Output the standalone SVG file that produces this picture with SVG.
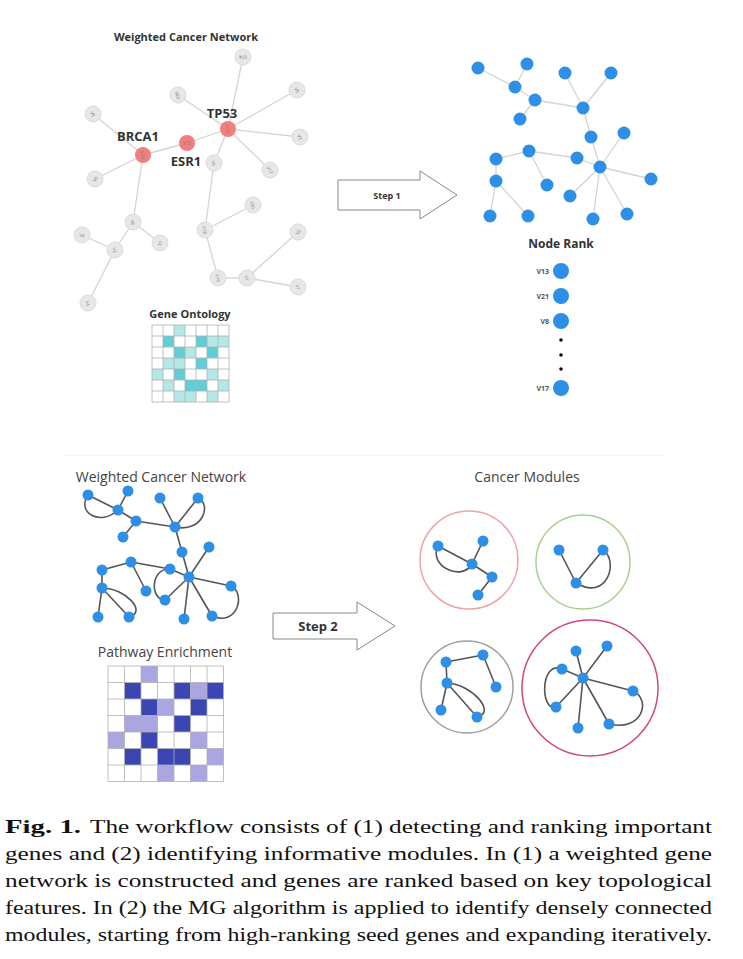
<svg xmlns="http://www.w3.org/2000/svg" width="743" height="959" viewBox="0 0 743 959">
<style>
.e1{stroke:#d4d4d4;stroke-width:1.3;fill:none}
.e2{stroke:#555;stroke-width:1.6;fill:none}
.gn{fill:#e7e7e7;stroke:#dcdcdc;stroke-width:1}
.rn{fill:#f27f80}
.bn{fill:#2e8fe6}
.tl{font-family:'Open Sans','DejaVu Sans',sans-serif;font-size:4.5px;fill:#777;text-anchor:middle;dominant-baseline:central}
.bt{font-family:'Open Sans','DejaVu Sans',sans-serif;font-weight:bold;fill:#333;text-anchor:middle}
.rt{font-family:'Open Sans','DejaVu Sans',sans-serif;fill:#444;text-anchor:middle;font-size:14px}
.rk{font-family:'Open Sans','DejaVu Sans',sans-serif;font-weight:bold;fill:#555;text-anchor:end;font-size:7px}
.cap{font-family:'Liberation Serif','Times New Roman',serif;font-size:18.5px;fill:#111}
.arr{fill:#fff;stroke:#888;stroke-width:1}
.gc{stroke:#b0b0b0;stroke-width:0.8}
.dt{fill:#5ecfd6}.lt{fill:#b3e8e6}
.dp{fill:#3b45b3}.lp{fill:#aaa6e2}
</style>

<!-- separator -->
<line x1="65" y1="455" x2="665" y2="455" stroke="#f0f0f0" stroke-width="1"/>

<!-- ===== Top-left network ===== -->
<text class="bt" x="186" y="41" font-size="11">Weighted Cancer Network</text>
<g id="tl-edges">
<line class="e1" x1="243" y1="57" x2="228" y2="129"/>
<line class="e1" x1="178" y1="95" x2="228" y2="129"/>
<line class="e1" x1="297" y1="90" x2="228" y2="129"/>
<line class="e1" x1="300" y1="137" x2="228" y2="129"/>
<line class="e1" x1="187" y1="143" x2="228" y2="129"/>
<line class="e1" x1="187" y1="143" x2="143" y2="155"/>
<line class="e1" x1="93" y1="114" x2="143" y2="155"/>
<line class="e1" x1="270" y1="170" x2="228" y2="129"/>
<line class="e1" x1="214" y1="163" x2="228" y2="129"/>
<line class="e1" x1="95" y1="179" x2="143" y2="155"/>
<line class="e1" x1="133" y1="222" x2="143" y2="155"/>
<line class="e1" x1="133" y1="222" x2="160" y2="243"/>
<line class="e1" x1="133" y1="222" x2="115" y2="250"/>
<line class="e1" x1="82" y1="235" x2="115" y2="250"/>
<line class="e1" x1="88" y1="303" x2="115" y2="250"/>
<line class="e1" x1="214" y1="163" x2="205" y2="230"/>
<line class="e1" x1="253" y1="205" x2="205" y2="230"/>
<line class="e1" x1="218" y1="278" x2="205" y2="230"/>
<line class="e1" x1="218" y1="278" x2="247" y2="278"/>
<line class="e1" x1="298" y1="232" x2="247" y2="278"/>
<line class="e1" x1="298" y1="287" x2="247" y2="278"/>
</g>
<g id="tl-n1"><circle class="gn" cx="243" cy="57" r="8"/><text class="tl" transform="translate(243,57) rotate(180)">V14</text></g>
<g id="tl-n2"><circle class="gn" cx="178" cy="95" r="8"/><text class="tl" transform="translate(178,95) rotate(70)">V22</text></g>
<g id="tl-n3"><circle class="gn" cx="297" cy="90" r="8"/><text class="tl" transform="translate(297,90) rotate(60)">V5</text></g>
<g id="tl-n4"><circle class="gn" cx="93" cy="114" r="8"/><text class="tl" transform="translate(93,114) rotate(60)">V9</text></g>
<g id="tl-n6"><circle class="gn" cx="300" cy="137" r="8"/><text class="tl" transform="translate(300,137) rotate(70)">V3</text></g>
<g id="tl-n9"><circle class="gn" cx="214" cy="163" r="8"/><text class="tl" transform="translate(214,163) rotate(80)">V6</text></g>
<g id="tl-n10"><circle class="gn" cx="270" cy="170" r="8"/><text class="tl" transform="translate(270,170) rotate(60)">V17</text></g>
<g id="tl-n11"><circle class="gn" cx="95" cy="179" r="8"/><text class="tl" transform="translate(95,179) rotate(-60)">V6</text></g>
<g id="tl-n12"><circle class="gn" cx="133" cy="222" r="8"/><text class="tl" transform="translate(133,222) rotate(80)">V8</text></g>
<g id="tl-n13"><circle class="gn" cx="82" cy="235" r="8"/><text class="tl" transform="translate(82,235) rotate(10)">V6</text></g>
<g id="tl-n14"><circle class="gn" cx="115" cy="250" r="8"/><text class="tl" transform="translate(115,250) rotate(80)">V2</text></g>
<g id="tl-n15"><circle class="gn" cx="160" cy="243" r="8"/><text class="tl" transform="translate(160,243) rotate(-60)">V1</text></g>
<g id="tl-n16"><circle class="gn" cx="88" cy="303" r="8"/><text class="tl" transform="translate(88,303) rotate(80)">V4</text></g>
<g id="tl-n17"><circle class="gn" cx="253" cy="205" r="8"/><text class="tl" transform="translate(253,205) rotate(80)">V20</text></g>
<g id="tl-n18"><circle class="gn" cx="205" cy="230" r="8"/><text class="tl" transform="translate(205,230) rotate(80)">V18</text></g>
<g id="tl-n19"><circle class="gn" cx="298" cy="232" r="8"/><text class="tl" transform="translate(298,232) rotate(-60)">V2</text></g>
<g id="tl-n20"><circle class="gn" cx="218" cy="278" r="8"/><text class="tl" transform="translate(218,278) rotate(80)">V19</text></g>
<g id="tl-n21"><circle class="gn" cx="247" cy="278" r="8"/><text class="tl" transform="translate(247,278) rotate(80)">V1</text></g>
<g id="tl-n22"><circle class="gn" cx="298" cy="287" r="8"/><text class="tl" transform="translate(298,287) rotate(80)">V7</text></g>
<g id="tl-tp53"><circle class="rn" cx="228" cy="129" r="8"/><text class="tl" transform="translate(228,129) rotate(80)">V13</text><text class="bt" x="222" y="118" font-size="13">TP53</text></g>
<g id="tl-esr1"><circle class="rn" cx="187" cy="143" r="8"/><text class="tl" x="187" y="143">V12</text><text class="bt" x="186" y="166" font-size="13">ESR1</text></g>
<g id="tl-brca1"><circle class="rn" cx="143" cy="155" r="8"/><text class="tl" transform="translate(143,155) rotate(80)">V24</text><text class="bt" x="138" y="141" font-size="13">BRCA1</text></g>

<!-- Gene Ontology grid -->
<g id="gene-ontology">
<text class="bt" x="190" y="318" font-size="11">Gene Ontology</text>
<rect x="152" y="325" width="77" height="77" fill="#fff"/>
<rect class="lt" x="174" y="325" width="11" height="11"/>
<rect class="dt" x="163" y="336" width="11" height="11"/><rect class="dt" x="196" y="336" width="11" height="11"/><rect class="lt" x="207" y="336" width="11" height="11"/><rect class="lt" x="218" y="336" width="11" height="11"/>
<rect class="dt" x="174" y="347" width="11" height="11"/><rect class="lt" x="185" y="347" width="11" height="11"/><rect class="dt" x="207" y="347" width="11" height="11"/>
<rect class="lt" x="163" y="358" width="11" height="11"/><rect class="lt" x="174" y="358" width="11" height="11"/><rect class="dt" x="196" y="358" width="11" height="11"/>
<rect class="lt" x="152" y="369" width="11" height="11"/><rect class="dt" x="174" y="369" width="11" height="11"/><rect class="lt" x="207" y="369" width="11" height="11"/>
<rect class="lt" x="163" y="380" width="11" height="11"/><rect class="dt" x="185" y="380" width="11" height="11"/><rect class="dt" x="196" y="380" width="11" height="11"/><rect class="lt" x="218" y="380" width="11" height="11"/>
<rect class="lt" x="174" y="391" width="11" height="11"/><rect class="lt" x="185" y="391" width="11" height="11"/><rect class="lt" x="207" y="391" width="11" height="11"/>
<g class="gc">
<line x1="152" y1="325" x2="152" y2="402"/><line x1="163" y1="325" x2="163" y2="402"/><line x1="174" y1="325" x2="174" y2="402"/><line x1="185" y1="325" x2="185" y2="402"/><line x1="196" y1="325" x2="196" y2="402"/><line x1="207" y1="325" x2="207" y2="402"/><line x1="218" y1="325" x2="218" y2="402"/><line x1="229" y1="325" x2="229" y2="402"/>
<line x1="152" y1="325" x2="229" y2="325"/><line x1="152" y1="336" x2="229" y2="336"/><line x1="152" y1="347" x2="229" y2="347"/><line x1="152" y1="358" x2="229" y2="358"/><line x1="152" y1="369" x2="229" y2="369"/><line x1="152" y1="380" x2="229" y2="380"/><line x1="152" y1="391" x2="229" y2="391"/><line x1="152" y1="402" x2="229" y2="402"/>
</g>
</g>

<!-- Step 1 arrow -->
<g id="step1"><polygon class="arr" points="338,180 420,180 420,171 457,195 420,219 420,210 338,210"/><text class="bt" x="387" y="199" font-size="9">Step 1</text></g>

<!-- ===== Top-right network ===== -->
<g id="tr-edges" class="e1">
<line x1="478" y1="68" x2="515" y2="87"/><line x1="527" y1="64" x2="515" y2="87"/><line x1="515" y1="87" x2="535" y2="100"/><line x1="535" y1="100" x2="520" y2="119"/><line x1="535" y1="100" x2="583" y2="108"/><line x1="565" y1="73" x2="583" y2="108"/><line x1="611" y1="73" x2="583" y2="108"/><line x1="583" y1="108" x2="591" y2="137"/><line x1="591" y1="137" x2="600" y2="167"/><line x1="624" y1="133" x2="600" y2="167"/><line x1="529" y1="151" x2="496" y2="159"/><line x1="529" y1="151" x2="577" y2="158"/><line x1="577" y1="158" x2="600" y2="167"/><line x1="529" y1="151" x2="547" y2="185"/><line x1="496" y1="159" x2="496" y2="181"/><line x1="496" y1="181" x2="490" y2="216"/><line x1="496" y1="181" x2="528" y2="216"/><line x1="600" y1="167" x2="570" y2="196"/><line x1="600" y1="167" x2="651" y2="179"/><line x1="600" y1="167" x2="593" y2="219"/><line x1="600" y1="167" x2="627" y2="214"/>
</g>
<g id="tr-a"><circle class="bn" cx="478" cy="68" r="6.5"/></g>
<g id="tr-b"><circle class="bn" cx="527" cy="64" r="6.5"/></g>
<g id="tr-c"><circle class="bn" cx="515" cy="87" r="6.5"/></g>
<g id="tr-d"><circle class="bn" cx="535" cy="100" r="6.5"/></g>
<g id="tr-e"><circle class="bn" cx="520" cy="119" r="6.5"/></g>
<g id="tr-f"><circle class="bn" cx="565" cy="73" r="6.5"/></g>
<g id="tr-g"><circle class="bn" cx="611" cy="73" r="6.5"/></g>
<g id="tr-h"><circle class="bn" cx="583" cy="108" r="6.5"/></g>
<g id="tr-i"><circle class="bn" cx="591" cy="137" r="6.5"/></g>
<g id="tr-j"><circle class="bn" cx="624" cy="133" r="6.5"/></g>
<g id="tr-k"><circle class="bn" cx="529" cy="151" r="6.5"/></g>
<g id="tr-l"><circle class="bn" cx="496" cy="159" r="6.5"/></g>
<g id="tr-m"><circle class="bn" cx="577" cy="158" r="6.5"/></g>
<g id="tr-n"><circle class="bn" cx="600" cy="167" r="6.5"/></g>
<g id="tr-o"><circle class="bn" cx="496" cy="181" r="6.5"/></g>
<g id="tr-p"><circle class="bn" cx="547" cy="185" r="6.5"/></g>
<g id="tr-q"><circle class="bn" cx="570" cy="196" r="6.5"/></g>
<g id="tr-r"><circle class="bn" cx="651" cy="179" r="6.5"/></g>
<g id="tr-s"><circle class="bn" cx="490" cy="216" r="6.5"/></g>
<g id="tr-t"><circle class="bn" cx="528" cy="216" r="6.5"/></g>
<g id="tr-u"><circle class="bn" cx="593" cy="219" r="6.5"/></g>
<g id="tr-v"><circle class="bn" cx="627" cy="214" r="6.5"/></g>

<!-- Node Rank -->
<g id="node-rank">
<text class="bt" x="561" y="248" font-size="12">Node Rank</text>
<g id="rank-v13"><circle class="bn" cx="561" cy="271" r="8"/><text class="rk" x="549" y="273.5">V13</text></g>
<g id="rank-v21"><circle class="bn" cx="561" cy="296" r="8"/><text class="rk" x="549" y="298.5">V21</text></g>
<g id="rank-v8"><circle class="bn" cx="561" cy="321" r="8"/><text class="rk" x="549" y="323.5">V8</text></g>
<circle cx="561" cy="340" r="1.8" fill="#111"/><circle cx="561" cy="355" r="1.8" fill="#111"/><circle cx="561" cy="369" r="1.8" fill="#111"/>
<g id="rank-v17"><circle class="bn" cx="561" cy="388" r="8"/><text class="rk" x="549" y="390.5">V17</text></g>
</g>

<!-- ===== Bottom-left network ===== -->
<text class="rt" x="161" y="482">Weighted Cancer Network</text>
<g id="bl-edges" class="e2">
<line x1="88" y1="495" x2="118" y2="510"/>
<path d="M88,495 C76,512 100,527 118,510"/>
<line x1="128" y1="491" x2="118" y2="510"/>
<line x1="118" y1="510" x2="136" y2="521"/>
<line x1="136" y1="521" x2="123" y2="537"/>
<line x1="136" y1="521" x2="175" y2="527"/>
<line x1="160" y1="498" x2="175" y2="527"/>
<line x1="198" y1="498" x2="175" y2="527"/>
<path d="M198,498 C212,504 203,533 175,527"/>
<line x1="175" y1="527" x2="182" y2="552"/>
<line x1="182" y1="552" x2="189" y2="577"/>
<line x1="209" y1="547" x2="189" y2="577"/>
<line x1="131" y1="562" x2="102" y2="570"/>
<line x1="131" y1="562" x2="170" y2="569"/>
<line x1="131" y1="562" x2="146" y2="591"/>
<line x1="170" y1="569" x2="189" y2="577"/>
<path d="M170,569 C150,568 150,600 165,600"/>
<line x1="189" y1="577" x2="165" y2="600"/>
<line x1="189" y1="577" x2="231" y2="586"/>
<path d="M231,586 C246,593 238,627 212,616"/>
<line x1="189" y1="577" x2="212" y2="616"/>
<line x1="189" y1="577" x2="184" y2="619"/>
<line x1="102" y1="570" x2="102" y2="588"/>
<line x1="102" y1="588" x2="98" y2="617"/>
<line x1="102" y1="588" x2="129" y2="617"/>
<path d="M102,588 C125,588 148,612 129,617"/>
</g>
<g id="bl-a"><circle class="bn" cx="88" cy="495" r="5.5"/></g>
<g id="bl-b"><circle class="bn" cx="128" cy="491" r="5.5"/></g>
<g id="bl-c"><circle class="bn" cx="118" cy="510" r="5.5"/></g>
<g id="bl-d"><circle class="bn" cx="136" cy="521" r="5.5"/></g>
<g id="bl-e"><circle class="bn" cx="123" cy="537" r="5.5"/></g>
<g id="bl-f"><circle class="bn" cx="160" cy="498" r="5.5"/></g>
<g id="bl-g"><circle class="bn" cx="198" cy="498" r="5.5"/></g>
<g id="bl-h"><circle class="bn" cx="175" cy="527" r="5.5"/></g>
<g id="bl-i"><circle class="bn" cx="182" cy="552" r="5.5"/></g>
<g id="bl-j"><circle class="bn" cx="209" cy="547" r="5.5"/></g>
<g id="bl-k"><circle class="bn" cx="131" cy="562" r="5.5"/></g>
<g id="bl-l"><circle class="bn" cx="102" cy="570" r="5.5"/></g>
<g id="bl-m"><circle class="bn" cx="170" cy="569" r="5.5"/></g>
<g id="bl-n"><circle class="bn" cx="189" cy="577" r="5.5"/></g>
<g id="bl-o"><circle class="bn" cx="102" cy="588" r="5.5"/></g>
<g id="bl-p"><circle class="bn" cx="146" cy="591" r="5.5"/></g>
<g id="bl-q"><circle class="bn" cx="165" cy="600" r="5.5"/></g>
<g id="bl-r"><circle class="bn" cx="231" cy="586" r="5.5"/></g>
<g id="bl-s"><circle class="bn" cx="98" cy="617" r="5.5"/></g>
<g id="bl-t"><circle class="bn" cx="129" cy="617" r="5.5"/></g>
<g id="bl-u"><circle class="bn" cx="184" cy="619" r="5.5"/></g>
<g id="bl-v"><circle class="bn" cx="212" cy="616" r="5.5"/></g>

<!-- Pathway Enrichment grid -->
<g id="pathway-enrichment">
<text class="rt" x="165" y="657">Pathway Enrichment</text>
<rect x="108" y="666" width="115.5" height="115.5" fill="#fff"/>
<rect class="lp" x="141" y="666" width="16.5" height="16.5"/>
<rect class="dp" x="124.5" y="682.5" width="16.5" height="16.5"/><rect class="dp" x="174" y="682.5" width="16.5" height="16.5"/><rect class="lp" x="190.5" y="682.5" width="16.5" height="16.5"/><rect class="dp" x="207" y="682.5" width="16.5" height="16.5"/>
<rect class="dp" x="141" y="699" width="16.5" height="16.5"/><rect class="lp" x="157.5" y="699" width="16.5" height="16.5"/><rect class="dp" x="190.5" y="699" width="16.5" height="16.5"/>
<rect class="lp" x="124.5" y="715.5" width="16.5" height="16.5"/><rect class="lp" x="141" y="715.5" width="16.5" height="16.5"/><rect class="dp" x="174" y="715.5" width="16.5" height="16.5"/>
<rect class="lp" x="108" y="732" width="16.5" height="16.5"/><rect class="dp" x="141" y="732" width="16.5" height="16.5"/><rect class="lp" x="190.5" y="732" width="16.5" height="16.5"/>
<rect class="dp" x="124.5" y="748.5" width="16.5" height="16.5"/><rect class="dp" x="157.5" y="748.5" width="16.5" height="16.5"/><rect class="dp" x="174" y="748.5" width="16.5" height="16.5"/><rect class="lp" x="207" y="748.5" width="16.5" height="16.5"/>
<rect class="lp" x="157.5" y="765" width="16.5" height="16.5"/><rect class="lp" x="190.5" y="765" width="16.5" height="16.5"/>
<g class="gc">
<line x1="108" y1="666" x2="108" y2="781.5"/><line x1="124.5" y1="666" x2="124.5" y2="781.5"/><line x1="141" y1="666" x2="141" y2="781.5"/><line x1="157.5" y1="666" x2="157.5" y2="781.5"/><line x1="174" y1="666" x2="174" y2="781.5"/><line x1="190.5" y1="666" x2="190.5" y2="781.5"/><line x1="207" y1="666" x2="207" y2="781.5"/><line x1="223.5" y1="666" x2="223.5" y2="781.5"/>
<line x1="108" y1="666" x2="223.5" y2="666"/><line x1="108" y1="682.5" x2="223.5" y2="682.5"/><line x1="108" y1="699" x2="223.5" y2="699"/><line x1="108" y1="715.5" x2="223.5" y2="715.5"/><line x1="108" y1="732" x2="223.5" y2="732"/><line x1="108" y1="748.5" x2="223.5" y2="748.5"/><line x1="108" y1="765" x2="223.5" y2="765"/><line x1="108" y1="781.5" x2="223.5" y2="781.5"/>
</g>
</g>

<!-- Step 2 arrow -->
<g id="step2"><polygon class="arr" points="273,613 357,613 357,602 395,626 357,650 357,639 273,639"/><text class="bt" x="318" y="631" font-size="13">Step 2</text></g>

<!-- ===== Cancer Modules ===== -->
<text class="rt" x="527" y="482">Cancer Modules</text>
<g id="module-red">
<circle cx="469" cy="560" r="49" fill="none" stroke="#f0a3a3" stroke-width="1.5"/>
<g class="e2"><line x1="438" y1="546" x2="472" y2="564"/><path d="M438,546 C428,566 462,582 472,564"/><line x1="483" y1="541" x2="472" y2="564"/><line x1="472" y1="564" x2="492" y2="577"/><line x1="492" y1="577" x2="478" y2="595"/></g>
<circle class="bn" cx="438" cy="546" r="5.5"/><circle class="bn" cx="483" cy="541" r="5.5"/><circle class="bn" cx="472" cy="564" r="5.5"/><circle class="bn" cx="492" cy="577" r="5.5"/><circle class="bn" cx="478" cy="595" r="5.5"/>
</g>
<g id="module-green">
<circle cx="583" cy="562" r="47" fill="none" stroke="#a8d18d" stroke-width="1.5"/>
<g class="e2"><line x1="559" y1="550" x2="576" y2="583"/><line x1="603" y1="550" x2="576" y2="583"/><path d="M603,550 C619,560 608,602 576,583"/></g>
<circle class="bn" cx="559" cy="550" r="5.5"/><circle class="bn" cx="603" cy="550" r="5.5"/><circle class="bn" cx="576" cy="583" r="5.5"/>
</g>
<g id="module-gray">
<circle cx="467" cy="687" r="46" fill="none" stroke="#a0a0a0" stroke-width="1.5"/>
<g class="e2"><line x1="446" y1="662" x2="483" y2="655"/><line x1="483" y1="655" x2="496" y2="687"/><line x1="446" y1="662" x2="447" y2="683"/><line x1="447" y1="683" x2="441" y2="710"/><line x1="447" y1="683" x2="477" y2="717"/><path d="M447,683 C472,684 497,713 477,717"/></g>
<circle class="bn" cx="446" cy="662" r="5.5"/><circle class="bn" cx="483" cy="655" r="5.5"/><circle class="bn" cx="447" cy="683" r="5.5"/><circle class="bn" cx="496" cy="687" r="5.5"/><circle class="bn" cx="441" cy="710" r="5.5"/><circle class="bn" cx="477" cy="717" r="5.5"/>
</g>
<g id="module-pink">
<circle cx="590" cy="688" r="68" fill="none" stroke="#d24585" stroke-width="1.5"/>
<g class="e2"><line x1="583" y1="678" x2="576" y2="651"/><line x1="583" y1="678" x2="607" y2="646"/><line x1="583" y1="678" x2="562" y2="669"/><line x1="583" y1="678" x2="633" y2="691"/><line x1="583" y1="678" x2="556" y2="707"/><line x1="583" y1="678" x2="609" y2="724"/><line x1="583" y1="678" x2="578" y2="728"/><path d="M562,669 C540,660 540,712 556,707"/><path d="M633,691 C652,700 642,732 609,724"/></g>
<circle class="bn" cx="583" cy="678" r="5.5"/><circle class="bn" cx="576" cy="651" r="5.5"/><circle class="bn" cx="607" cy="646" r="5.5"/><circle class="bn" cx="562" cy="669" r="5.5"/><circle class="bn" cx="633" cy="691" r="5.5"/><circle class="bn" cx="556" cy="707" r="5.5"/><circle class="bn" cx="609" cy="724" r="5.5"/><circle class="bn" cx="578" cy="728" r="5.5"/>
</g>

<!-- Caption -->
<g id="caption" class="cap">
<text x="5" y="833" font-weight="bold" textLength="76" lengthAdjust="spacingAndGlyphs">Fig. 1.</text>
<text x="90" y="833" textLength="622" lengthAdjust="spacingAndGlyphs">The workflow consists of (1) detecting and ranking important</text>
<text x="5" y="860" textLength="707" lengthAdjust="spacingAndGlyphs">genes and (2) identifying informative modules. In (1) a weighted gene</text>
<text x="5" y="887" textLength="707" lengthAdjust="spacingAndGlyphs">network is constructed and genes are ranked based on key topological</text>
<text x="5" y="914" textLength="707" lengthAdjust="spacingAndGlyphs">features. In (2) the MG algorithm is applied to identify densely connected</text>
<text x="5" y="941" textLength="707" lengthAdjust="spacingAndGlyphs">modules, starting from high-ranking seed genes and expanding iteratively.</text>
</g>
</svg>
